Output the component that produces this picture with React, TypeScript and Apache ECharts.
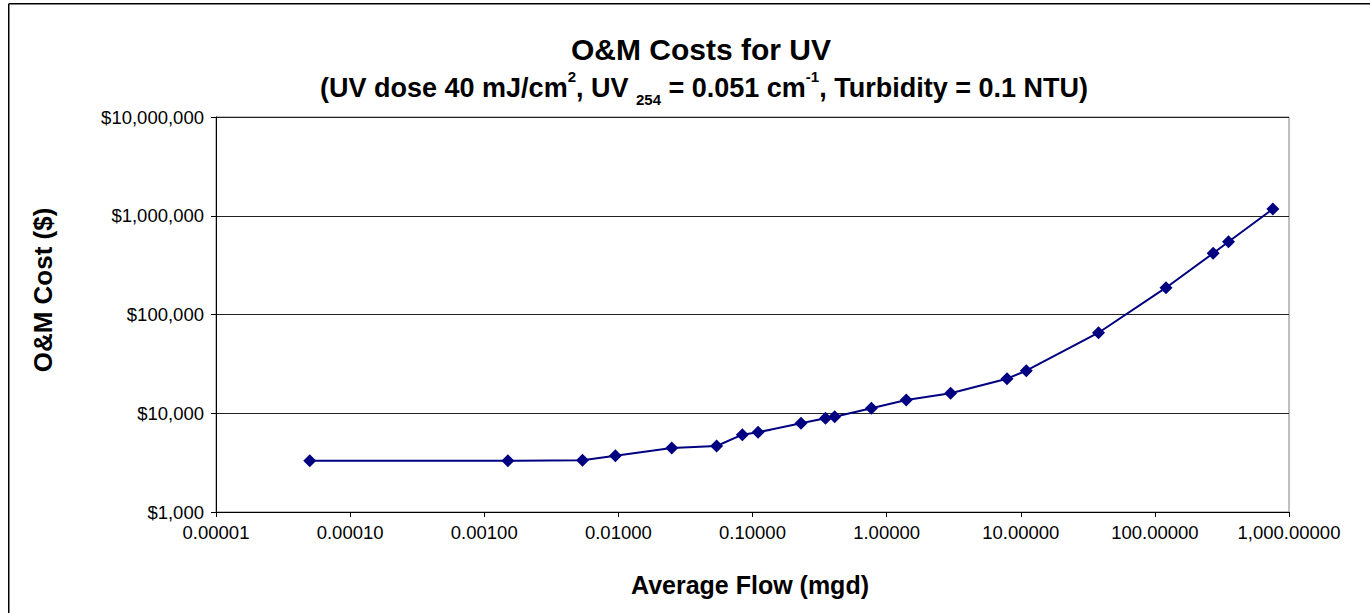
import React, { useEffect, useRef } from "react";
import * as echarts from "echarts";

const flowMgd: number[] = [
  0.00005, 0.0015, 0.0054, 0.0095, 0.025, 0.054, 0.084, 0.11, 0.23, 0.35, 0.41,
  0.77, 1.4, 3.0, 7.9, 11, 38, 121, 272, 354, 758,
];
const omCost: number[] = [
  3300, 3300, 3350, 3720, 4450, 4660, 6070, 6410, 7910, 8890, 9230, 11220,
  13620, 15920, 22380, 26970, 65400, 186800, 416800, 546000, 1170000,
];

const titleText = "O&M Costs for UV";
const xName = "Average Flow (mgd)";
const yName = "O&M Cost ($)";

const FONT = "'Liberation Sans', Arial, Helvetica, sans-serif";

export default function App() {
  const ref = useRef<HTMLDivElement>(null);
  useEffect(() => {
    if (!ref.current) return;
    const chart = echarts.init(ref.current, null, { renderer: "svg" });
    const data = flowMgd.map((f, i) => [f, omCost[i]]);
    chart.setOption({
      animation: false,
      backgroundColor: "#fff",
      textStyle: { fontFamily: FONT },
      grid: { left: 208, right: 81, top: 114, bottom: 101, show: true, borderColor: "#808080", borderWidth: 1 },
      xAxis: {
        type: "log",
        logBase: 10,
        min: 0.00001,
        max: 1000,
        interval: 1,
        axisLine: { show: true, lineStyle: { color: "#000", width: 1 } },
        axisTick: { show: true, inside: false, length: 5, lineStyle: { color: "#000" } },
        splitLine: { show: false },
        axisLabel: {
          color: "#000",
          fontSize: 18.5,
          fontFamily: FONT,
          margin: 11,
          formatter: (v: number) =>
            v.toLocaleString("en-US", { minimumFractionDigits: 5, maximumFractionDigits: 5 }),
        },
      },
      yAxis: {
        type: "log",
        logBase: 10,
        min: 1000,
        max: 10000000,
        interval: 1,
        axisLine: { show: true, lineStyle: { color: "#000", width: 1 } },
        axisTick: { show: true, inside: false, length: 5, lineStyle: { color: "#000" } },
        splitLine: { show: true, lineStyle: { color: "#222", width: 1 } },
        axisLabel: {
          color: "#000",
          fontSize: 18.5,
          fontFamily: FONT,
          margin: 12,
          formatter: (v: number) => "$" + Math.round(v).toLocaleString("en-US"),
        },
      },
      series: [
        {
          type: "line",
          data,
          symbol: "diamond",
          symbolSize: 13,
          itemStyle: { color: "#000080" },
          lineStyle: { color: "#000080", width: 2 },
        },
      ],
      graphic: [
        { type: "line", shape: { x1: 0.75, y1: 0.75, x2: 1362, y2: 0.75 }, style: { stroke: "#000", lineWidth: 1.5 } },
        { type: "line", shape: { x1: 0.75, y1: 0.75, x2: 0.75, y2: 610 }, style: { stroke: "#000", lineWidth: 1.5 } },
        {
          type: "text",
          x: 693,
          y: 46,
          style: {
            text: titleText,
            font: `bold 30px ${FONT}`,
            fill: "#000",
            textAlign: "center",
            textVerticalAlign: "middle",
          },
        },
        {
          type: "text",
          x: 696,
          y: 85,
          style: {
            text:
              "{s|(UV dose 40 mJ/cm}{sup|2}{s|, UV }{sub|254}{s| = 0.051 cm}{sup|-1}{s|, Turbidity = 0.1 NTU)}",
            fill: "#000",
            textAlign: "center",
            textVerticalAlign: "middle",
            rich: {
              s: { fontSize: 27, fontWeight: "bold", fontFamily: FONT, lineHeight: 38, verticalAlign: "middle" },
              sup: { fontSize: 15, fontWeight: "bold", fontFamily: FONT, lineHeight: 20, verticalAlign: "top" },
              sub: { fontSize: 15, fontWeight: "bold", fontFamily: FONT, lineHeight: 17, verticalAlign: "bottom" },
            },
          },
        },
        {
          type: "text",
          x: 742,
          y: 582,
          style: {
            text: xName,
            font: `bold 25px ${FONT}`,
            fill: "#000",
            textAlign: "center",
            textVerticalAlign: "middle",
          },
        },
        {
          type: "text",
          x: 35,
          y: 287,
          rotation: Math.PI / 2,
          style: {
            text: yName,
            font: `bold 26px ${FONT}`,
            fill: "#000",
            textAlign: "center",
            textVerticalAlign: "middle",
          },
        },
      ],
    });
    return () => chart.dispose();
  }, []);
  return (
    <div
      ref={ref}
      style={{ position: "fixed", left: 8, top: 3, width: 1362, height: 610, background: "#fff" }}
    />
  );
}
